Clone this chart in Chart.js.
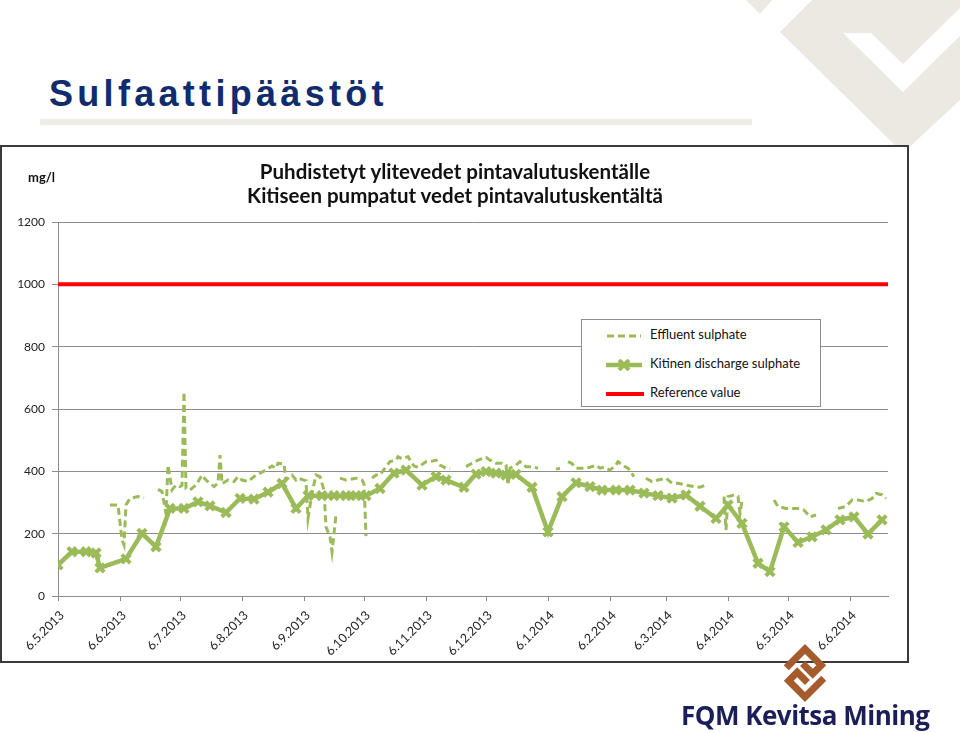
<!DOCTYPE html>
<html lang="fi">
<head>
<meta charset="utf-8">
<title>Sulfaattipäästöt</title>
<script src="https://cdn.jsdelivr.net/npm/chart.js@4.4.1/dist/chart.umd.min.js"></script>
<style>
  html, body { margin: 0; padding: 0; background: #fff; }
  body { width: 960px; height: 732px; position: relative; overflow: hidden; font-family: Lato, 'Open Sans', sans-serif; }
  .deco { position: absolute; left: 0; top: 0; }
  .page-title { position: absolute; left: 49px; top: 74px; margin: 0; font: bold 36px 'Liberation Sans', Arial, sans-serif; letter-spacing: 4.3px; line-height: 40px; color: #102c6c; }
  .title-bar { position: absolute; left: 40px; top: 119px; width: 712px; height: 6px; background: #ecebe4; }
  .frame { position: absolute; left: 0; top: 145px; width: 909px; height: 518px; border: 2px solid #3a3a3a; box-sizing: border-box; background: #fff; }
  #chartWrap { position: absolute; left: 0; top: 0; width: 960px; height: 732px; }
  .chart-title { position: absolute; left: 105px; top: 159px; width: 700px; text-align: center; font: bold 20.5px Lato, sans-serif; line-height: 24px; color: #111; }
  .unit { position: absolute; left: 28px; top: 169px; font: bold 13px Lato, sans-serif; color: #111; }
  .legend { position: absolute; left: 581px; top: 319px; width: 240px; height: 88px; border: 1px solid #8c8c8c; box-sizing: border-box; background: #fff; font: 13px Lato, sans-serif; color: #111; }
  .legend div { position: absolute; left: 24px; height: 16px; line-height: 16px; }
  .legend svg { vertical-align: middle; margin-right: 4px; }
  .logo { position: absolute; left: 774px; top: 644px; }
  .logo-text { position: absolute; left: 681px; top: 697px; font: bold 26px 'Open Sans', sans-serif; letter-spacing: -0.5px; color: #1c1e5a; }
</style>
</head>
<body>

<svg class="deco" width="960" height="160">
  <polygon points="746,0 772,0 760,14" fill="#ece9e3"/>
  <polygon points="812,0 960,0 960,100 903,153 780,32" fill="#ece9e3"/>
  <polygon points="843,33 903,92 960,36 960,8 903,64 871,33" fill="#fff"/>
</svg>

<h1 class="page-title">Sulfaattipäästöt</h1>
<div class="title-bar"></div>
<div class="frame"></div>

<div id="chartWrap"><canvas id="myChart"></canvas></div>

<div class="chart-title">Puhdistetyt ylitevedet pintavalutuskentälle<br>Kitiseen pumpatut vedet pintavalutuskentältä</div>
<div class="unit">mg/l</div>

<div class="legend" id="myChartLegend"></div>

<svg class="logo" width="62" height="60">
  <g transform="translate(31,29) rotate(45)" fill="none" stroke="#a65b2d" stroke-width="7" stroke-linecap="square">
    <path d="M -17 6 V -17 H 6 V -5 H -5"/>
    <path d="M 17 -6 V 17 H -6 V 5 H 5"/>
  </g>
</svg>
<div class="logo-text">FQM Kevitsa Mining</div>

<script>
// days counted from 6.5.2013 (first tick of the axis)
const startDate = Date.UTC(2013, 4, 6);
const axisEndDay = 415;

const tickLabels = ['6.5.2013', '6.6.2013', '6.7.2013', '6.8.2013', '6.9.2013', '6.10.2013', '6.11.2013',
  '6.12.2013', '6.1.2014', '6.2.2014', '6.3.2014', '6.4.2014', '6.5.2014', '6.6.2014'];

const kitinenDay = [0, 7, 14, 19, 21, 34, 42, 49, 56, 63, 70, 76, 84, 91, 98, 105, 112, 119, 125, 132,
  138, 144, 149, 154, 161, 168, 174, 182, 189, 194, 203, 209, 214, 219, 224, 229, 237, 245, 252, 259,
  266, 272, 279, 286, 293, 300, 307, 314, 321, 329, 335, 342, 350, 356, 363, 370, 377, 384, 391, 398,
  405, 412];
const kitinenValue = [100, 142, 142, 138, 90, 119, 201, 158, 281, 281, 302, 289, 268, 313, 311, 333, 361, 281, 322, 322,
  322, 322, 322, 322, 345, 394, 404, 356, 383, 372, 349, 391, 399, 394, 388, 390, 349, 206, 319, 363,
  351, 340, 340, 340, 330, 322, 314, 324, 288, 249, 292, 233, 105, 78, 222, 172, 190, 212, 244, 254,
  199, 244];

// null = no sample (gap in the dashed line)
const effluentDay = [26, 30, 32, 33, 34, 36, 40, 43, 44,
  50, 52, 54, 55, 57, 59, 61, 62, 63, 64, 66, 69, 72, 74, 78, 80, 81, 82, 85, 88, 90, 92, 95, 99, 101,
  104, 107, 109, 110, 113, 114, 117, 119, 120, 123, 124, 125, 127, 129, 131, 133, 134, 136, 137, 138, 139, 140,
  141, 144, 149, 152, 153, 154, 155,
  157, 159, 161, 164, 166, 169, 170, 172, 175, 178, 180, 184, 186, 189, 191, 194, 196, 197,
  204, 207, 210, 214, 216, 219, 222, 224, 225, 226, 229, 231, 234, 237, 240, 241,
  249, 251, 252,
  255, 257, 259, 263, 266, 269, 271, 273, 276, 279, 280, 283, 285, 288, 289,
  294, 297, 300, 304, 307, 310, 314, 318, 321, 324, 325,
  333, 334, 335, 338, 340, 341, 342, 343,
  358, 360, 364, 367, 370, 373, 376, 379, 380,
  390, 394, 397, 400, 404, 407, 409, 412, 414];
const effluentValue = [292, 292, 180, 164, 292, 313, 319, 315, null,
  342, 335, 265, 420, 340, 356, 351, 355, 655, 345, 340, 356, 388, 372, 351, 362, 452, 360, 372, 367, 383, 372, 367, 388, 394,
  404, 417, 410, 426, 424, 372, 388, 372, 378, 372, 370, 249, 330, 388, 383, 340, 222, 190, 142, 200, 260, null,
  378, 372, 378, 372, 360, 192, null,
  378, 388, 388, 415, 431, 436, 447, 440, 447, 417, 413, 431, 431, 436, 420, 410, 407, null,
  415, 426, 436, 445, 436, 426, 426, 420, 356, 410, 420, 431, 415, 415, 410, null,
  407, 410, null,
  431, 425, 410, 410, 413, 420, 410, 413, 404, 420, 431, 417, 410, 383, null,
  378, 367, 372, 378, 362, 362, 356, 351, 349, 356, null,
  319, 212, 319, 324, 320, 265, 305, null,
  308, 287, 281, 281, 281, 276, 254, 260, null,
  281, 287, 308, 308, 303, 313, 329, 325, 313];

const referenceValue = 1000;

const green = '#9bbb59';
const red = '#ff0000';
const gridColor = '#8c8c8c';

function labelToDay(label) {
  const p = label.split('.').map(Number);
  return Math.round((Date.UTC(p[2], p[1] - 1, p[0]) - startDate) / 86400000);
}
const tickDays = tickLabels.map(labelToDay);

function toPoints(days, values) {
  return days.map((d, i) => ({ x: d, y: values[i] }));
}

const ctx = document.querySelector('#myChart').getContext('2d');
// eslint-disable-next-line no-undef
const myChart = new Chart(ctx, {
  type: 'line',
  data: {
    datasets: [{
      label: 'Effluent sulphate',
      data: toPoints(effluentDay, effluentValue),
      borderColor: green,
      borderWidth: 3,
      borderDash: [7, 4],
      pointRadius: 0,
      spanGaps: false,
      order: 2
    },
    {
      label: 'Kitinen discharge sulphate',
      data: toPoints(kitinenDay, kitinenValue),
      borderColor: green,
      backgroundColor: green,
      borderWidth: 4.5,
      pointStyle: 'crossRot',
      pointRadius: 6,
      pointBorderWidth: 4,
      pointBorderColor: green,
      order: 1
    },
    {
      label: 'Reference value',
      data: [{ x: 0, y: referenceValue }, { x: axisEndDay, y: referenceValue }],
      borderColor: red,
      borderWidth: 4,
      pointRadius: 0,
      order: 0
    }]
  },
  options: {
    responsive: true,
    maintainAspectRatio: false,
    animation: false,
    layout: { padding: { top: 222, right: 72, left: 0, bottom: 0 } },
    plugins: {
      legend: { display: false },
      title: { display: false },
      tooltip: { enabled: false }
    },
    scales: {
      x: {
        type: 'linear',
        min: 0,
        max: axisEndDay,
        afterBuildTicks: function(scale) {
          scale.ticks = tickDays.map(v => ({ value: v }));
        },
        afterFit: function(scale) {
          scale.height = 136;
        },
        ticks: {
          autoSkip: false,
          minRotation: 45,
          maxRotation: 45,
          padding: 7,
          labelOffset: 4,
          color: '#222',
          font: { family: 'Lato', size: 12.5 },
          callback: function(value, index) {
            return tickLabels[index];
          }
        },
        grid: { drawOnChartArea: false, drawTicks: true, tickLength: 5, color: gridColor },
        border: { display: true, color: gridColor, width: 1 }
      },
      y: {
        min: 0,
        max: 1200,
        afterFit: function(scale) {
          scale.width = 58;
        },
        ticks: {
          stepSize: 200,
          padding: 7,
          color: '#222',
          font: { family: 'Lato', size: 12 },
          callback: function(value) {
            return String(value);
          }
        },
        grid: { color: gridColor, lineWidth: 1, tickLength: 6 },
        border: { display: true, color: gridColor, width: 1 }
      }
    }
  }
});

// html legend
const legendSamples = {
  'Effluent sulphate': '<line x1="1" y1="6" x2="35" y2="6" stroke="' + green + '" stroke-width="3" stroke-dasharray="7 4"/>',
  'Kitinen discharge sulphate': '<line x1="0" y1="6" x2="36" y2="6" stroke="' + green + '" stroke-width="4.5"/>' +
    '<path d="M13 1 L23 11 M23 1 L13 11" stroke="' + green + '" stroke-width="4"/>',
  'Reference value': '<line x1="0" y1="6" x2="38" y2="6" stroke="' + red + '" stroke-width="4"/>'
};
const legendContainer = document.querySelector('#myChartLegend');
const text = [];
myChart.data.datasets.forEach(function(ds, i) {
  text.push('<div style="top:' + (6 + i * 29) + 'px"><svg width="40" height="12">' + legendSamples[ds.label] +
    '</svg>' + ds.label + '</div>');
});
legendContainer.innerHTML = text.join('');
</script>
</body>
</html>
